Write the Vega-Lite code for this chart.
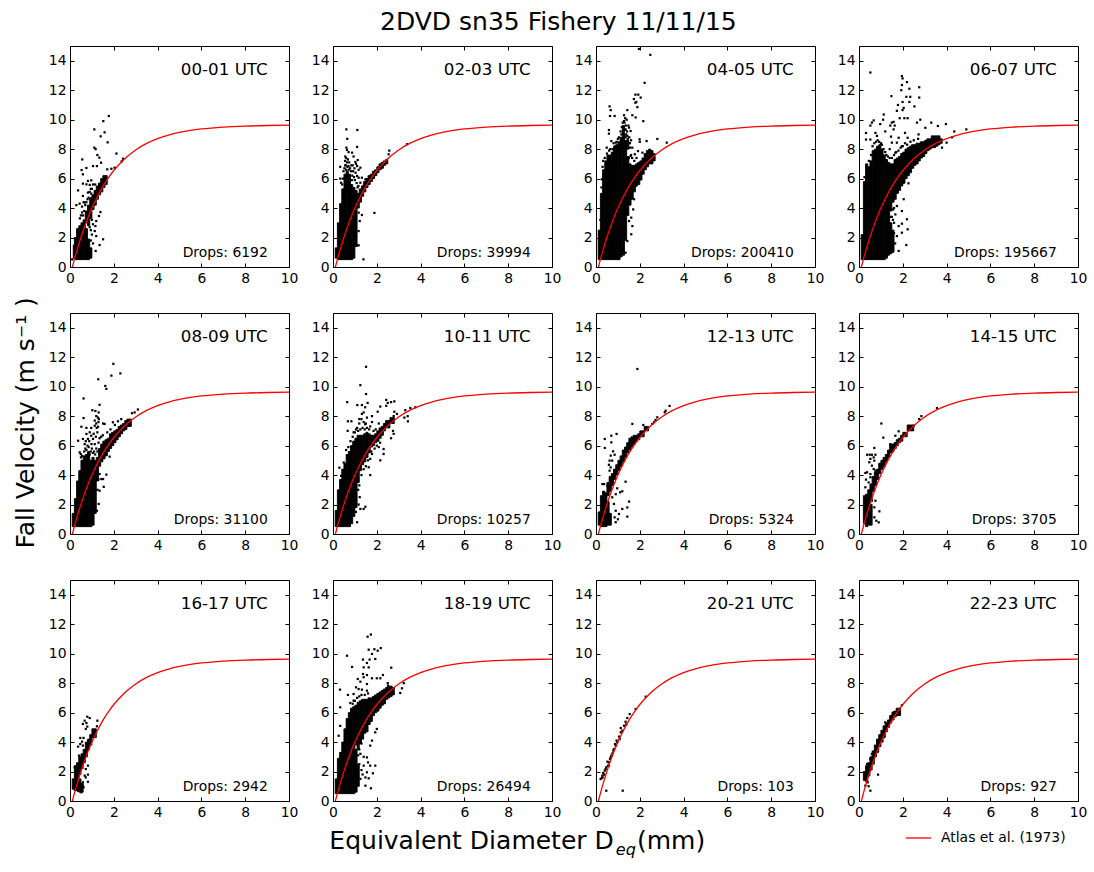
{"$schema":"https://vega.github.io/schema/vega-lite/v6.json","padding":0,"autosize":{"type":"pad"},"bounds":"full","spacing":0,
"config":{"font":"DejaVu Sans","view":{"stroke":null},"axis":{"grid":false,"labelFont":"DejaVu Sans","labelFontSize":13.9,"labelColor":"black","tickColor":"black","domain":false,"title":null,"labelAngle":0,"labelFlush":false,"labelOverlap":false}},
"datasets":{"atlas":[{"d":0.11,"v":0},{"d":0.2,"v":0.515},{"d":0.3,"v":1.047},{"d":0.4,"v":1.548},{"d":0.5,"v":2.02},{"d":0.6,"v":2.464},{"d":0.8,"v":3.277},{"d":1,"v":3.997},{"d":1.2,"v":4.636},{"d":1.4,"v":5.203},{"d":1.6,"v":5.706},{"d":1.8,"v":6.152},{"d":2,"v":6.548},{"d":2.5,"v":7.352},{"d":3,"v":7.947},{"d":3.5,"v":8.389},{"d":4,"v":8.716},{"d":4.5,"v":8.958},{"d":5,"v":9.137},{"d":5.5,"v":9.27},{"d":6,"v":9.369},{"d":7,"v":9.496},{"d":8,"v":9.565},{"d":9,"v":9.603},{"d":10,"v":9.624}],
"panels":[{"p":"00","t":"00-01 UTC","n":"Drops: 6192"},{"p":"02","t":"02-03 UTC","n":"Drops: 39994"},{"p":"04","t":"04-05 UTC","n":"Drops: 200410"},{"p":"06","t":"06-07 UTC","n":"Drops: 195667"},{"p":"08","t":"08-09 UTC","n":"Drops: 31100"},{"p":"10","t":"10-11 UTC","n":"Drops: 10257"},{"p":"12","t":"12-13 UTC","n":"Drops: 5324"},{"p":"14","t":"14-15 UTC","n":"Drops: 3705"},{"p":"16","t":"16-17 UTC","n":"Drops: 2942"},{"p":"18","t":"18-19 UTC","n":"Drops: 26494"},{"p":"20","t":"20-21 UTC","n":"Drops: 103"},{"p":"22","t":"22-23 UTC","n":"Drops: 927"},
{"p":"00","a":0.15,"b":0.2,"l":0.6,"h":1.5},{"p":"00","a":0.2,"b":0.3,"l":0.5,"h":2},{"p":"00","a":0.3,"b":0.4,"l":0.5,"h":2.6},{"p":"00","a":0.4,"b":0.5,"l":0.5,"h":2.8},{"p":"00","a":0.5,"b":0.6,"l":0.5,"h":3},{"p":"00","a":0.6,"b":0.7,"l":0.5,"h":3.2},{"p":"00","a":0.7,"b":0.8,"l":0.5,"h":2.6},{"p":"00","a":0.7,"b":0.8,"l":3,"h":3.8},{"p":"00","a":0.8,"b":0.9,"l":0.5,"h":1.9},{"p":"00","a":0.8,"b":0.9,"l":2.8,"h":4.2},{"p":"00","a":0.9,"b":1,"l":0.6,"h":1.3},{"p":"00","a":0.9,"b":1,"l":3.3,"h":4.7},{"p":"00","a":1,"b":1.1,"l":3.9,"h":4.9},{"p":"00","a":1.1,"b":1.2,"l":4.2,"h":5.2},{"p":"00","a":1.2,"b":1.3,"l":4.6,"h":5.5},{"p":"00","a":1.3,"b":1.4,"l":4.9,"h":5.7},{"p":"00","a":1.4,"b":1.5,"l":5.1,"h":6},{"p":"00","a":1.5,"b":1.6,"l":5.4,"h":6.2},{"p":"00","a":1.6,"b":1.7,"l":5.6,"h":6.2},
{"p":"02","a":0.1,"b":0.2,"l":0.6,"h":1.3},{"p":"02","a":0.2,"b":0.3,"l":0.5,"h":3},{"p":"02","a":0.3,"b":0.4,"l":0.5,"h":4.3},{"p":"02","a":0.4,"b":0.5,"l":0.5,"h":5.3},{"p":"02","a":0.5,"b":0.6,"l":0.5,"h":6.3},{"p":"02","a":0.6,"b":0.7,"l":0.5,"h":6.5},{"p":"02","a":0.7,"b":0.8,"l":0.5,"h":6.3},{"p":"02","a":0.8,"b":0.9,"l":0.5,"h":5.6},{"p":"02","a":0.9,"b":1,"l":0.6,"h":5.4},{"p":"02","a":1,"b":1.1,"l":1.4,"h":5.2},{"p":"02","a":1.1,"b":1.2,"l":4,"h":5},{"p":"02","a":1.2,"b":1.3,"l":4.4,"h":5.3},{"p":"02","a":1.3,"b":1.4,"l":4.8,"h":5.5},{"p":"02","a":1.4,"b":1.5,"l":5.1,"h":5.8},{"p":"02","a":1.5,"b":1.6,"l":5.4,"h":6},{"p":"02","a":1.6,"b":1.7,"l":5.6,"h":6.2},{"p":"02","a":1.7,"b":1.8,"l":5.8,"h":6.3},{"p":"02","a":1.8,"b":1.9,"l":6,"h":6.5},{"p":"02","a":1.9,"b":2,"l":6.2,"h":6.6},{"p":"02","a":2,"b":2.1,"l":6.4,"h":6.8},{"p":"02","a":2.1,"b":2.2,"l":6.6,"h":7},{"p":"02","a":2.2,"b":2.3,"l":6.7,"h":7.1},{"p":"02","a":2.3,"b":2.4,"l":6.9,"h":7.2},{"p":"02","a":2.4,"b":2.5,"l":7,"h":7.3},
{"p":"04","a":0.1,"b":0.2,"l":0.5,"h":2.5},{"p":"04","a":0.2,"b":0.3,"l":0.5,"h":5},{"p":"04","a":0.3,"b":0.4,"l":0.5,"h":6.6},{"p":"04","a":0.4,"b":0.5,"l":0.5,"h":7.2},{"p":"04","a":0.5,"b":0.7,"l":0.5,"h":7.6},{"p":"04","a":0.7,"b":0.8,"l":0.5,"h":7.8},{"p":"04","a":0.8,"b":0.9,"l":0.5,"h":8.2},{"p":"04","a":0.9,"b":1,"l":0.5,"h":8.3},{"p":"04","a":1,"b":1.1,"l":0.5,"h":8.5},{"p":"04","a":1.1,"b":1.2,"l":0.7,"h":8.8},{"p":"04","a":1.2,"b":1.3,"l":0.8,"h":9.6},{"p":"04","a":1.3,"b":1.4,"l":1.8,"h":8.6},{"p":"04","a":1.4,"b":1.5,"l":3.5,"h":7.5},{"p":"04","a":1.4,"b":1.5,"l":8,"h":8.6},{"p":"04","a":1.5,"b":1.6,"l":4.2,"h":7},{"p":"04","a":1.6,"b":1.7,"l":4.6,"h":6.9},{"p":"04","a":1.7,"b":1.8,"l":5.1,"h":6.9},{"p":"04","a":1.8,"b":1.9,"l":5.5,"h":7},{"p":"04","a":1.9,"b":2,"l":5.6,"h":7.1},{"p":"04","a":2,"b":2.1,"l":5.9,"h":7.2},{"p":"04","a":2.1,"b":2.2,"l":6.3,"h":7.4},{"p":"04","a":2.2,"b":2.3,"l":6.6,"h":7.7},{"p":"04","a":2.3,"b":2.4,"l":6.8,"h":7.9},{"p":"04","a":2.4,"b":2.5,"l":7,"h":8},{"p":"04","a":2.5,"b":2.6,"l":7,"h":7.9},{"p":"04","a":2.6,"b":2.7,"l":7.2,"h":7.7},
{"p":"06","a":0.1,"b":0.2,"l":0.5,"h":2.2},{"p":"06","a":0.2,"b":0.3,"l":0.5,"h":5.8},{"p":"06","a":0.3,"b":0.4,"l":0.5,"h":7},{"p":"06","a":0.4,"b":0.5,"l":0.5,"h":6.8},{"p":"06","a":0.5,"b":0.6,"l":0.5,"h":7.2},{"p":"06","a":0.6,"b":0.7,"l":0.5,"h":7.9},{"p":"06","a":0.7,"b":0.8,"l":0.5,"h":8},{"p":"06","a":0.8,"b":0.9,"l":0.5,"h":8.2},{"p":"06","a":0.9,"b":1,"l":0.5,"h":8.3},{"p":"06","a":1,"b":1.1,"l":0.5,"h":8},{"p":"06","a":1.1,"b":1.2,"l":0.5,"h":7.6},{"p":"06","a":1.2,"b":1.3,"l":0.6,"h":7.3},{"p":"06","a":1.3,"b":1.4,"l":0.8,"h":7.1},{"p":"06","a":1.4,"b":1.5,"l":0.9,"h":3},{"p":"06","a":1.4,"b":1.5,"l":3.8,"h":7},{"p":"06","a":1.5,"b":1.6,"l":1,"h":2.5},{"p":"06","a":1.5,"b":1.6,"l":4.4,"h":7},{"p":"06","a":1.6,"b":1.7,"l":4.6,"h":7.3},{"p":"06","a":1.7,"b":1.8,"l":5,"h":7.4},{"p":"06","a":1.8,"b":1.9,"l":5.2,"h":7.5},{"p":"06","a":1.9,"b":2,"l":5.5,"h":7.7},{"p":"06","a":2,"b":2.1,"l":5.7,"h":7.8},{"p":"06","a":2.1,"b":2.2,"l":6,"h":8},{"p":"06","a":2.2,"b":2.3,"l":6.2,"h":8.1},{"p":"06","a":2.3,"b":2.4,"l":6.4,"h":8.2},{"p":"06","a":2.4,"b":2.5,"l":6.7,"h":8.3},{"p":"06","a":2.5,"b":2.6,"l":6.9,"h":8.3},{"p":"06","a":2.6,"b":2.7,"l":7,"h":8.4},{"p":"06","a":2.7,"b":2.8,"l":7.2,"h":8.4},{"p":"06","a":2.8,"b":2.9,"l":7.4,"h":8.5},{"p":"06","a":2.9,"b":3,"l":7.5,"h":8.5},{"p":"06","a":3,"b":3.1,"l":7.7,"h":8.6},{"p":"06","a":3.1,"b":3.2,"l":7.9,"h":8.7},{"p":"06","a":3.2,"b":3.3,"l":8,"h":8.7},{"p":"06","a":3.3,"b":3.5,"l":8.1,"h":8.9},{"p":"06","a":3.5,"b":3.6,"l":8.2,"h":8.9},{"p":"06","a":3.6,"b":3.7,"l":8.3,"h":8.9},{"p":"06","a":3.7,"b":3.8,"l":8.4,"h":8.7},
{"p":"08","a":0.1,"b":0.2,"l":0.5,"h":1.4},{"p":"08","a":0.2,"b":0.3,"l":0.5,"h":2.4},{"p":"08","a":0.3,"b":0.4,"l":0.5,"h":3.6},{"p":"08","a":0.4,"b":0.5,"l":0.5,"h":4.3},{"p":"08","a":0.5,"b":0.6,"l":0.5,"h":5},{"p":"08","a":0.6,"b":0.7,"l":0.5,"h":5.3},{"p":"08","a":0.7,"b":0.8,"l":0.5,"h":5.4},{"p":"08","a":0.8,"b":0.9,"l":0.5,"h":5.6},{"p":"08","a":0.9,"b":1,"l":0.5,"h":5},{"p":"08","a":1,"b":1.1,"l":0.6,"h":5.2},{"p":"08","a":1.1,"b":1.2,"l":1.4,"h":5},{"p":"08","a":1.2,"b":1.3,"l":3.6,"h":5.2},{"p":"08","a":1.3,"b":1.4,"l":4.6,"h":5.8},{"p":"08","a":1.4,"b":1.5,"l":4.9,"h":6.1},{"p":"08","a":1.5,"b":1.6,"l":5.1,"h":6.3},{"p":"08","a":1.6,"b":1.7,"l":5.3,"h":6.4},{"p":"08","a":1.7,"b":1.8,"l":5.6,"h":6.5},{"p":"08","a":1.8,"b":1.9,"l":5.8,"h":6.8},{"p":"08","a":1.9,"b":2,"l":6,"h":6.9},{"p":"08","a":2,"b":2.1,"l":6.2,"h":7},{"p":"08","a":2.1,"b":2.2,"l":6.4,"h":7.1},{"p":"08","a":2.2,"b":2.3,"l":6.6,"h":7.3},{"p":"08","a":2.3,"b":2.4,"l":6.8,"h":7.4},{"p":"08","a":2.4,"b":2.5,"l":7,"h":7.5},{"p":"08","a":2.5,"b":2.6,"l":7.1,"h":7.7},{"p":"08","a":2.6,"b":2.8,"l":7.3,"h":7.8},
{"p":"10","a":0.1,"b":0.2,"l":0.5,"h":1.6},{"p":"10","a":0.2,"b":0.3,"l":0.5,"h":3},{"p":"10","a":0.3,"b":0.4,"l":0.5,"h":3.7},{"p":"10","a":0.4,"b":0.5,"l":0.5,"h":4.4},{"p":"10","a":0.5,"b":0.6,"l":0.5,"h":4.8},{"p":"10","a":0.6,"b":0.7,"l":0.5,"h":5.4},{"p":"10","a":0.7,"b":0.8,"l":0.5,"h":5.6},{"p":"10","a":0.8,"b":0.9,"l":0.7,"h":6},{"p":"10","a":0.9,"b":1,"l":1.2,"h":6.3},{"p":"10","a":1,"b":1.1,"l":1.8,"h":6.5},{"p":"10","a":1.1,"b":1.2,"l":3.5,"h":6.7},{"p":"10","a":1.2,"b":1.3,"l":4.3,"h":6.7},{"p":"10","a":1.3,"b":1.4,"l":4.7,"h":6.7},{"p":"10","a":1.4,"b":1.5,"l":4.9,"h":6.8},{"p":"10","a":1.5,"b":1.6,"l":5.2,"h":6.9},{"p":"10","a":1.6,"b":1.7,"l":5.5,"h":6.8},{"p":"10","a":1.7,"b":1.8,"l":5.9,"h":6.7},{"p":"10","a":1.8,"b":1.9,"l":6,"h":6.7},{"p":"10","a":1.9,"b":2,"l":6.2,"h":6.8},{"p":"10","a":2,"b":2.1,"l":6.3,"h":7},{"p":"10","a":2.1,"b":2.2,"l":6.5,"h":7.2},{"p":"10","a":2.2,"b":2.3,"l":6.7,"h":7.3},{"p":"10","a":2.3,"b":2.4,"l":7,"h":7.5},{"p":"10","a":2.4,"b":2.6,"l":7.2,"h":7.7},{"p":"10","a":2.6,"b":2.8,"l":7.5,"h":7.9},
{"p":"12","a":0.1,"b":0.2,"l":0.6,"h":1.5},{"p":"12","a":0.2,"b":0.3,"l":0.5,"h":2.6},{"p":"12","a":0.3,"b":0.4,"l":0.5,"h":2.9},{"p":"12","a":0.4,"b":0.5,"l":0.5,"h":2.8},{"p":"12","a":0.5,"b":0.6,"l":0.6,"h":2.2},{"p":"12","a":0.5,"b":0.6,"l":2.6,"h":3.5},{"p":"12","a":0.6,"b":0.7,"l":0.6,"h":1.4},{"p":"12","a":0.6,"b":0.7,"l":2.9,"h":3.9},{"p":"12","a":0.7,"b":0.8,"l":3.3,"h":4.1},{"p":"12","a":0.8,"b":0.9,"l":3.7,"h":4.4},{"p":"12","a":0.9,"b":1,"l":4,"h":4.7},{"p":"12","a":1,"b":1.1,"l":4.3,"h":5},{"p":"12","a":1.1,"b":1.2,"l":4.6,"h":5.3},{"p":"12","a":1.2,"b":1.3,"l":4.9,"h":5.7},{"p":"12","a":1.3,"b":1.4,"l":5.2,"h":5.9},{"p":"12","a":1.4,"b":1.5,"l":5.5,"h":6.2},{"p":"12","a":1.5,"b":1.6,"l":5.7,"h":6.5},{"p":"12","a":1.6,"b":1.7,"l":5.9,"h":6.6},{"p":"12","a":1.7,"b":1.8,"l":6.1,"h":6.7},{"p":"12","a":1.8,"b":1.9,"l":6.3,"h":6.7},{"p":"12","a":1.9,"b":2,"l":6.4,"h":6.8},{"p":"12","a":2,"b":2.2,"l":6.6,"h":7},{"p":"12","a":2.2,"b":2.4,"l":7,"h":7.3},
{"p":"14","a":0.2,"b":0.3,"l":0.7,"h":2.6},{"p":"14","a":0.3,"b":0.4,"l":0.5,"h":2.7},{"p":"14","a":0.4,"b":0.5,"l":0.6,"h":3},{"p":"14","a":0.5,"b":0.6,"l":0.6,"h":2},{"p":"14","a":0.5,"b":0.6,"l":2.3,"h":3.4},{"p":"14","a":0.6,"b":0.7,"l":2.9,"h":3.9},{"p":"14","a":0.7,"b":0.8,"l":3.3,"h":4.2},{"p":"14","a":0.8,"b":0.9,"l":3.7,"h":4.4},{"p":"14","a":0.9,"b":1,"l":4.1,"h":4.8},{"p":"14","a":1,"b":1.1,"l":4.4,"h":5},{"p":"14","a":1.1,"b":1.2,"l":4.6,"h":5.2},{"p":"14","a":1.2,"b":1.3,"l":4.9,"h":5.4},{"p":"14","a":1.3,"b":1.4,"l":5.2,"h":5.7},{"p":"14","a":1.4,"b":1.5,"l":5.5,"h":6.1},{"p":"14","a":1.5,"b":1.6,"l":5.6,"h":6.1},{"p":"14","a":1.6,"b":1.7,"l":5.8,"h":6.2},{"p":"14","a":1.7,"b":1.8,"l":6,"h":6.4},{"p":"14","a":1.8,"b":1.9,"l":6.2,"h":6.5},{"p":"14","a":1.9,"b":2,"l":6.3,"h":6.7},{"p":"14","a":2,"b":2.2,"l":6.6,"h":6.9},{"p":"14","a":2.2,"b":2.5,"l":7,"h":7.4},
{"p":"16","a":0.1,"b":0.2,"l":0.8,"h":1.5},{"p":"16","a":0.2,"b":0.3,"l":0.7,"h":2.4},{"p":"16","a":0.3,"b":0.4,"l":0.7,"h":2.6},{"p":"16","a":0.4,"b":0.5,"l":0.6,"h":1.5},{"p":"16","a":0.4,"b":0.5,"l":1.8,"h":3},{"p":"16","a":0.5,"b":0.6,"l":0.6,"h":1.2},{"p":"16","a":0.5,"b":0.6,"l":2.2,"h":3.2},{"p":"16","a":0.6,"b":0.7,"l":2.6,"h":3.5},{"p":"16","a":0.7,"b":0.8,"l":3,"h":4},{"p":"16","a":0.8,"b":0.9,"l":3.5,"h":4.2},{"p":"16","a":0.9,"b":1,"l":3.8,"h":4.5},{"p":"16","a":1,"b":1.2,"l":4.3,"h":4.9},
{"p":"18","a":0.1,"b":0.2,"l":0.5,"h":1.5},{"p":"18","a":0.2,"b":0.3,"l":0.5,"h":2.9},{"p":"18","a":0.3,"b":0.4,"l":0.5,"h":3.3},{"p":"18","a":0.4,"b":0.5,"l":0.5,"h":4},{"p":"18","a":0.5,"b":0.6,"l":0.5,"h":4.9},{"p":"18","a":0.6,"b":0.7,"l":0.5,"h":5.6},{"p":"18","a":0.7,"b":0.8,"l":0.5,"h":6},{"p":"18","a":0.8,"b":0.9,"l":0.5,"h":6.3},{"p":"18","a":0.9,"b":1,"l":0.5,"h":6.4},{"p":"18","a":1,"b":1.1,"l":0.6,"h":3.5},{"p":"18","a":1,"b":1.1,"l":3.8,"h":6.5},{"p":"18","a":1.1,"b":1.2,"l":1,"h":2.5},{"p":"18","a":1.1,"b":1.2,"l":3.5,"h":6.7},{"p":"18","a":1.2,"b":1.3,"l":3.9,"h":6.8},{"p":"18","a":1.3,"b":1.4,"l":4.2,"h":6.9},{"p":"18","a":1.4,"b":1.5,"l":4.6,"h":6.9},{"p":"18","a":1.5,"b":1.6,"l":4.7,"h":6.9},{"p":"18","a":1.6,"b":1.7,"l":5.2,"h":7},{"p":"18","a":1.7,"b":1.8,"l":5.4,"h":7},{"p":"18","a":1.8,"b":1.9,"l":5.8,"h":7.1},{"p":"18","a":1.9,"b":2,"l":6,"h":7.2},{"p":"18","a":2,"b":2.1,"l":6.1,"h":7.3},{"p":"18","a":2.1,"b":2.2,"l":6.3,"h":7.4},{"p":"18","a":2.2,"b":2.3,"l":6.5,"h":7.5},{"p":"18","a":2.3,"b":2.4,"l":6.6,"h":7.6},{"p":"18","a":2.4,"b":2.5,"l":6.9,"h":7.7},{"p":"18","a":2.5,"b":2.6,"l":7,"h":7.8},{"p":"18","a":2.6,"b":2.7,"l":7.1,"h":7.8},{"p":"18","a":2.7,"b":2.8,"l":7.2,"h":7.7},
{"p":"22","a":0.2,"b":0.3,"l":1.4,"h":2},{"p":"22","a":0.3,"b":0.4,"l":1.3,"h":2.4},{"p":"22","a":0.4,"b":0.5,"l":1.7,"h":2.6},{"p":"22","a":0.5,"b":0.6,"l":2.1,"h":3},{"p":"22","a":0.6,"b":0.7,"l":2.5,"h":3.4},{"p":"22","a":0.7,"b":0.8,"l":3,"h":3.8},{"p":"22","a":0.8,"b":0.9,"l":3.3,"h":4.2},{"p":"22","a":0.9,"b":1,"l":3.7,"h":4.5},{"p":"22","a":1,"b":1.1,"l":4,"h":4.8},{"p":"22","a":1.1,"b":1.2,"l":4.3,"h":5.1},{"p":"22","a":1.2,"b":1.3,"l":4.7,"h":5.3},{"p":"22","a":1.3,"b":1.4,"l":5,"h":5.5},{"p":"22","a":1.4,"b":1.5,"l":5.3,"h":5.8},{"p":"22","a":1.5,"b":1.6,"l":5.5,"h":6},{"p":"22","a":1.6,"b":1.7,"l":5.7,"h":6.1},{"p":"22","a":1.7,"b":1.9,"l":5.8,"h":6.3},
{"p":"00","d":1.77,"v":10.25},{"p":"00","d":1.52,"v":9.9},{"p":"00","d":1.11,"v":9.34},{"p":"00","d":1.58,"v":9.14},{"p":"00","d":1.4,"v":8.87},{"p":"00","d":1.72,"v":8.46},{"p":"00","d":1.11,"v":8.1},{"p":"00","d":1.17,"v":8},{"p":"00","d":1.25,"v":7.6},{"p":"00","d":1.34,"v":7.42},{"p":"00","d":0.56,"v":7.3},{"p":"00","d":2.12,"v":7.7},{"p":"00","d":2.36,"v":7.17},{"p":"00","d":2.42,"v":7.35},{"p":"00","d":1.05,"v":6.85},{"p":"00","d":1.23,"v":6.85},{"p":"00","d":1.42,"v":7.08},{"p":"00","d":0.75,"v":6.72},{"p":"00","d":0.53,"v":6.58},{"p":"00","d":0.59,"v":6.29},{"p":"00","d":1.7,"v":6.63},{"p":"00","d":1.89,"v":6.67},{"p":"00","d":2.04,"v":6.74},{"p":"00","d":0.82,"v":5.84},{"p":"00","d":0.97,"v":5.88},{"p":"00","d":0.59,"v":5.66},{"p":"00","d":0.75,"v":5.61},{"p":"00","d":0.9,"v":5.57},{"p":"00","d":0.37,"v":5.2},{"p":"00","d":0.82,"v":5.05},{"p":"00","d":0.97,"v":4.98},{"p":"00","d":0.59,"v":4.82},{"p":"00","d":0.44,"v":4.3},{"p":"00","d":0.29,"v":4.2},{"p":"00","d":0.67,"v":4.37},{"p":"00","d":1.39,"v":3.73},{"p":"00","d":1.32,"v":3.46},{"p":"00","d":1.2,"v":3.12},{"p":"00","d":1.16,"v":2.78},{"p":"00","d":1.13,"v":2.44},{"p":"00","d":1.2,"v":2.1},{"p":"00","d":1.51,"v":1.88},{"p":"00","d":1.35,"v":1.49},{"p":"00","d":1.17,"v":1.09},{"p":"00","d":0.1,"v":0.52},{"p":"00","d":0.45,"v":3.3},{"p":"00","d":0.5,"v":3.5},{"p":"00","d":0.55,"v":3.7},{"p":"00","d":0.6,"v":3.5},{"p":"00","d":0.65,"v":3.8},{"p":"00","d":0.7,"v":4.2},{"p":"00","d":0.75,"v":4.4},{"p":"00","d":0.8,"v":4.6},{"p":"00","d":0.85,"v":4.7},{"p":"00","d":0.55,"v":4.1},{"p":"00","d":0.62,"v":4.4},{"p":"00","d":0.9,"v":5.1},{"p":"00","d":0.95,"v":5.3},{"p":"00","d":1,"v":5.3},{"p":"00","d":1.05,"v":5.6},{"p":"00","d":1.15,"v":5.6},{"p":"00","d":1,"v":3.2},{"p":"00","d":1.05,"v":2.9},{"p":"00","d":1,"v":2.2},{"p":"00","d":0.95,"v":2.5},{"p":"00","d":0.95,"v":1.8},{"p":"00","d":1.05,"v":1.6},{"p":"00","d":0.9,"v":2.7},
{"p":"02","d":0.61,"v":9.34},{"p":"02","d":1.11,"v":9.3},{"p":"02","d":0.65,"v":8.7},{"p":"02","d":0.61,"v":8.1},{"p":"02","d":1.1,"v":8.15},{"p":"02","d":0.64,"v":7.95},{"p":"02","d":0.71,"v":7.8},{"p":"02","d":0.87,"v":7.76},{"p":"02","d":0.56,"v":7.5},{"p":"02","d":0.94,"v":7.5},{"p":"02","d":1.13,"v":7.26},{"p":"02","d":1.02,"v":7.13},{"p":"02","d":0.33,"v":6.8},{"p":"02","d":0.64,"v":7.1},{"p":"02","d":0.71,"v":6.85},{"p":"02","d":0.84,"v":6.9},{"p":"02","d":1.25,"v":6.74},{"p":"02","d":1.1,"v":6.85},{"p":"02","d":1.17,"v":6.6},{"p":"02","d":0.37,"v":5.72},{"p":"02","d":0.33,"v":6},{"p":"02","d":2.57,"v":7.9},{"p":"02","d":2.54,"v":7.65},{"p":"02","d":3.38,"v":8.33},{"p":"02","d":1.89,"v":3.67},{"p":"02","d":1.32,"v":3.53},{"p":"02","d":1.17,"v":3.69},{"p":"02","d":1.39,"v":0.52},{"p":"02","d":1.17,"v":1.47},{"p":"02","d":1.1,"v":1.47},{"p":"02","d":1.17,"v":2.44},{"p":"02","d":1.22,"v":3.12},{"p":"02","d":1.4,"v":5.5},{"p":"02","d":1.48,"v":5.95},{"p":"02","d":1.32,"v":6.06},{"p":"02","d":1.25,"v":5.72},{"p":"02","d":1.1,"v":6.18},{"p":"02","d":1.17,"v":6.06},{"p":"02","d":0.48,"v":6.5},{"p":"02","d":0.52,"v":6.7},{"p":"02","d":0.56,"v":6.9},{"p":"02","d":0.6,"v":6.6},{"p":"02","d":0.66,"v":6.8},{"p":"02","d":0.72,"v":6.6},{"p":"02","d":0.78,"v":6.7},{"p":"02","d":0.82,"v":6.5},{"p":"02","d":0.88,"v":6.2},{"p":"02","d":0.92,"v":6.5},{"p":"02","d":0.96,"v":6.1},{"p":"02","d":1,"v":5.9},{"p":"02","d":1.03,"v":6.4},{"p":"02","d":1.08,"v":5.7},{"p":"02","d":0.55,"v":7.2},{"p":"02","d":0.6,"v":7.4},{"p":"02","d":0.68,"v":7.3},{"p":"02","d":0.74,"v":7.1},{"p":"02","d":0.9,"v":6.9},{"p":"02","d":0.98,"v":6.7},{"p":"02","d":1.05,"v":7},{"p":"02","d":0.58,"v":6.9},{"p":"02","d":0.86,"v":5.9},{"p":"02","d":1.12,"v":5.4},{"p":"02","d":1.16,"v":5.5},{"p":"02","d":0.45,"v":6},{"p":"02","d":0.42,"v":5.6},
{"p":"04","d":1.96,"v":14.8},{"p":"04","d":2.48,"v":14.4},{"p":"04","d":2.22,"v":12.5},{"p":"04","d":1.8,"v":11.7},{"p":"04","d":1.93,"v":11.7},{"p":"04","d":2.04,"v":11.5},{"p":"04","d":1.73,"v":11.4},{"p":"04","d":1.84,"v":11.2},{"p":"04","d":1.8,"v":11.15},{"p":"04","d":1.89,"v":10.85},{"p":"04","d":0.62,"v":10.9},{"p":"04","d":0.67,"v":10.65},{"p":"04","d":0.64,"v":10.25},{"p":"04","d":0.85,"v":10.25},{"p":"04","d":1.43,"v":10.65},{"p":"04","d":1.28,"v":10.3},{"p":"04","d":1.66,"v":10.3},{"p":"04","d":1.81,"v":10.15},{"p":"04","d":2.16,"v":9.9},{"p":"04","d":0.59,"v":9.3},{"p":"04","d":0.59,"v":9.05},{"p":"04","d":0.49,"v":8.1},{"p":"04","d":0.7,"v":8.55},{"p":"04","d":0.9,"v":8.44},{"p":"04","d":0.87,"v":8.17},{"p":"04","d":1.99,"v":8.67},{"p":"04","d":2,"v":8.5},{"p":"04","d":2.31,"v":8.55},{"p":"04","d":2.8,"v":8.69},{"p":"04","d":3.23,"v":8.44},{"p":"04","d":1.92,"v":7.87},{"p":"04","d":2.12,"v":7.76},{"p":"04","d":1.77,"v":7.65},{"p":"04","d":1.58,"v":7.53},{"p":"04","d":1.35,"v":9.34},{"p":"04","d":1.51,"v":9.46},{"p":"04","d":1.28,"v":9.9},{"p":"04","d":1.43,"v":8.9},{"p":"04","d":1.16,"v":9},{"p":"04","d":1.58,"v":9.23},{"p":"04","d":1.66,"v":8.1},{"p":"04","d":1.56,"v":8.1},{"p":"04","d":1.7,"v":3.91},{"p":"04","d":1.61,"v":3.35},{"p":"04","d":1.51,"v":3.12},{"p":"04","d":1.66,"v":2.78},{"p":"04","d":1.61,"v":2.22},{"p":"04","d":1.43,"v":1.76},{"p":"04","d":1.35,"v":0.97},{"p":"04","d":1.74,"v":4.6},{"p":"04","d":1.81,"v":5.5},{"p":"04","d":0.33,"v":7.2},{"p":"04","d":0.27,"v":5.95},{"p":"04","d":1.05,"v":8.8},{"p":"04","d":1.12,"v":9.2},{"p":"04","d":1.18,"v":9.5},{"p":"04","d":1.22,"v":9.8},{"p":"04","d":1.3,"v":9.8},{"p":"04","d":1.33,"v":9.3},{"p":"04","d":1.36,"v":9.6},{"p":"04","d":1.38,"v":9},{"p":"04","d":1.42,"v":9.2},{"p":"04","d":1.45,"v":8.7},{"p":"04","d":1.48,"v":9.6},{"p":"04","d":1.52,"v":8.8},{"p":"04","d":1.55,"v":8.4},{"p":"04","d":1.6,"v":8.6},{"p":"04","d":1.4,"v":10},{"p":"04","d":1.33,"v":10.1},{"p":"04","d":1,"v":8.7},{"p":"04","d":0.95,"v":8.5},{"p":"04","d":0.8,"v":8.4},{"p":"04","d":1.65,"v":7.4},{"p":"04","d":1.75,"v":7.2},{"p":"04","d":1.6,"v":7.6},{"p":"04","d":1.85,"v":7.4},{"p":"04","d":0.4,"v":7.4},{"p":"04","d":0.5,"v":7.7},{"p":"04","d":0.6,"v":7.9},{"p":"04","d":0.65,"v":8},{"p":"04","d":0.75,"v":8},{"p":"04","d":1.5,"v":7.4},{"p":"04","d":1.3,"v":8.9},{"p":"04","d":1.35,"v":8.8},{"p":"04","d":0.25,"v":5.4},{"p":"04","d":0.2,"v":3.2},{"p":"04","d":0.3,"v":6.8},
{"p":"06","d":0.52,"v":13.2},{"p":"06","d":1.96,"v":12.96},{"p":"06","d":1.99,"v":12.8},{"p":"06","d":2.19,"v":12.55},{"p":"06","d":1.96,"v":12.35},{"p":"06","d":2.75,"v":12.2},{"p":"06","d":2.3,"v":12.1},{"p":"06","d":1.93,"v":12},{"p":"06","d":1.48,"v":11.6},{"p":"06","d":2.16,"v":11.55},{"p":"06","d":2.34,"v":11.55},{"p":"06","d":2.75,"v":11.5},{"p":"06","d":1.99,"v":11.2},{"p":"06","d":2.3,"v":11.2},{"p":"06","d":1.78,"v":11},{"p":"06","d":2.53,"v":10.9},{"p":"06","d":2.04,"v":10.8},{"p":"06","d":1.99,"v":10.65},{"p":"06","d":1.73,"v":10.6},{"p":"06","d":1.13,"v":10.35},{"p":"06","d":1.86,"v":10.1},{"p":"06","d":2.07,"v":10.1},{"p":"06","d":2.22,"v":10.1},{"p":"06","d":2.8,"v":10},{"p":"06","d":0.67,"v":9.95},{"p":"06","d":0.59,"v":9.8},{"p":"06","d":1.1,"v":10},{"p":"06","d":1.5,"v":9.8},{"p":"06","d":1.58,"v":9.85},{"p":"06","d":2.65,"v":9.8},{"p":"06","d":0.52,"v":9.6},{"p":"06","d":0.97,"v":9.7},{"p":"06","d":1.43,"v":9.6},{"p":"06","d":1.63,"v":9.6},{"p":"06","d":3.3,"v":9.8},{"p":"06","d":3.97,"v":9.7},{"p":"06","d":3.03,"v":9.45},{"p":"06","d":3.6,"v":9.57},{"p":"06","d":0.32,"v":9.1},{"p":"06","d":0.75,"v":9.1},{"p":"06","d":1.2,"v":9.2},{"p":"06","d":1.58,"v":9.34},{"p":"06","d":2.1,"v":9.1},{"p":"06","d":2.72,"v":9},{"p":"06","d":4.35,"v":9.2},{"p":"06","d":4.9,"v":9.34},{"p":"06","d":0.32,"v":8.65},{"p":"06","d":0.52,"v":8.65},{"p":"06","d":0.82,"v":8.9},{"p":"06","d":1.46,"v":8.85},{"p":"06","d":1.81,"v":8.77},{"p":"06","d":2.22,"v":8.77},{"p":"06","d":1.5,"v":8.44},{"p":"06","d":1.73,"v":8.44},{"p":"06","d":1.96,"v":8.2},{"p":"06","d":1.4,"v":8},{"p":"06","d":1.66,"v":7.76},{"p":"06","d":4.25,"v":8.8},{"p":"06","d":4,"v":8.44},{"p":"06","d":3.79,"v":8.1},{"p":"06","d":2.04,"v":5.72},{"p":"06","d":2.26,"v":5.68},{"p":"06","d":2.04,"v":4.6},{"p":"06","d":1.96,"v":3.8},{"p":"06","d":2.19,"v":3.24},{"p":"06","d":1.96,"v":2.94},{"p":"06","d":2.22,"v":2.56},{"p":"06","d":1.96,"v":2.33},{"p":"06","d":1.73,"v":2.1},{"p":"06","d":2.16,"v":1.49},{"p":"06","d":1.81,"v":1.09},{"p":"06","d":1.73,"v":4.14},{"p":"06","d":1.66,"v":3.57},{"p":"06","d":1.81,"v":2.78},{"p":"06","d":0.62,"v":8.2},{"p":"06","d":0.7,"v":8.4},{"p":"06","d":0.78,"v":8.5},{"p":"06","d":0.85,"v":8.6},{"p":"06","d":0.92,"v":8.5},{"p":"06","d":1,"v":8.4},{"p":"06","d":1.05,"v":8.3},{"p":"06","d":1.12,"v":8},{"p":"06","d":1.2,"v":7.8},{"p":"06","d":1.25,"v":7.6},{"p":"06","d":1.32,"v":7.5},{"p":"06","d":1.4,"v":7.4},{"p":"06","d":0.55,"v":7.6},{"p":"06","d":0.45,"v":7.2},{"p":"06","d":1.5,"v":7.4},{"p":"06","d":1.6,"v":7.6},{"p":"06","d":1.7,"v":7.8},{"p":"06","d":1.8,"v":7.9},{"p":"06","d":1.9,"v":8.1},{"p":"06","d":2,"v":8.2},{"p":"06","d":2.1,"v":8.4},{"p":"06","d":2.2,"v":8.3},{"p":"06","d":2.35,"v":8.5},{"p":"06","d":2.5,"v":8.6},{"p":"06","d":2.7,"v":8.7},{"p":"06","d":1.45,"v":3.4},{"p":"06","d":1.55,"v":3.9},{"p":"06","d":1.6,"v":4},{"p":"06","d":1.6,"v":3},{"p":"06","d":1.6,"v":2.3},{"p":"06","d":1.65,"v":1.6},{"p":"06","d":1.55,"v":3.2},{"p":"06","d":1.5,"v":3.4},{"p":"06","d":0.25,"v":6.1},
{"p":"08","d":1.98,"v":11.55},{"p":"08","d":1.89,"v":10.75},{"p":"08","d":2.3,"v":10.9},{"p":"08","d":1.29,"v":10.5},{"p":"08","d":1.61,"v":10.05},{"p":"08","d":1.66,"v":9.85},{"p":"08","d":0.62,"v":9.2},{"p":"08","d":1.35,"v":8.77},{"p":"08","d":1.02,"v":8.4},{"p":"08","d":1.16,"v":8.35},{"p":"08","d":3.1,"v":8.45},{"p":"08","d":2.95,"v":8.25},{"p":"08","d":2.83,"v":8.2},{"p":"08","d":1.31,"v":8.25},{"p":"08","d":1.2,"v":8},{"p":"08","d":0.62,"v":7.87},{"p":"08","d":1.13,"v":7.7},{"p":"08","d":1.32,"v":7.8},{"p":"08","d":1.51,"v":7.5},{"p":"08","d":1.58,"v":7.47},{"p":"08","d":0.97,"v":7.2},{"p":"08","d":0.52,"v":7.28},{"p":"08","d":0.75,"v":7.2},{"p":"08","d":1.13,"v":7.35},{"p":"08","d":1.28,"v":7.28},{"p":"08","d":0.59,"v":6.45},{"p":"08","d":0.37,"v":6.33},{"p":"08","d":0.75,"v":6.79},{"p":"08","d":0.9,"v":6.9},{"p":"08","d":0.82,"v":6.45},{"p":"08","d":1.05,"v":6.45},{"p":"08","d":0.97,"v":6.67},{"p":"08","d":1.13,"v":6.1},{"p":"08","d":0.67,"v":6.1},{"p":"08","d":0.44,"v":5.54},{"p":"08","d":0.49,"v":5.43},{"p":"08","d":1.96,"v":7.58},{"p":"08","d":2.19,"v":7.65},{"p":"08","d":2.34,"v":7.8},{"p":"08","d":1.66,"v":5.43},{"p":"08","d":1.81,"v":5.25},{"p":"08","d":1.66,"v":4.03},{"p":"08","d":1.54,"v":3.2},{"p":"08","d":1.35,"v":2.94},{"p":"08","d":1.43,"v":3.73},{"p":"08","d":1.31,"v":2.04},{"p":"08","d":1.23,"v":1.58},{"p":"08","d":1.51,"v":3.73},{"p":"08","d":1.35,"v":4.07},{"p":"08","d":0.65,"v":5.6},{"p":"08","d":0.7,"v":5.8},{"p":"08","d":0.75,"v":5.7},{"p":"08","d":0.8,"v":6},{"p":"08","d":0.85,"v":5.9},{"p":"08","d":0.9,"v":5.4},{"p":"08","d":0.95,"v":5.6},{"p":"08","d":1,"v":5.8},{"p":"08","d":1.05,"v":5.5},{"p":"08","d":1.1,"v":5.6},{"p":"08","d":1.15,"v":5.4},{"p":"08","d":1.2,"v":5.8},{"p":"08","d":0.72,"v":6.3},{"p":"08","d":0.88,"v":6.3},{"p":"08","d":0.98,"v":6.1},{"p":"08","d":1.08,"v":6.8},{"p":"08","d":1.18,"v":6.6},{"p":"08","d":1.25,"v":6.9},{"p":"08","d":1.22,"v":7.2},{"p":"08","d":1.3,"v":7.6},{"p":"08","d":1.28,"v":7.9},{"p":"08","d":1.2,"v":7.5},{"p":"08","d":0.55,"v":5.3},{"p":"08","d":0.5,"v":5.2},{"p":"08","d":1.3,"v":6.2},{"p":"08","d":1.35,"v":6.5},{"p":"08","d":1.42,"v":6.6},{"p":"08","d":1.5,"v":6.7},{"p":"08","d":1.7,"v":6.9},{"p":"08","d":1.85,"v":7.1},{"p":"08","d":2.05,"v":7.4},{"p":"08","d":1.25,"v":5.6},{"p":"08","d":1.25,"v":4.5},{"p":"08","d":1.3,"v":3.7},{"p":"08","d":1.25,"v":3},
{"p":"10","d":1.51,"v":11.35},{"p":"10","d":1.25,"v":10.1},{"p":"10","d":1.51,"v":9.5},{"p":"10","d":0.65,"v":8.95},{"p":"10","d":2.43,"v":9.1},{"p":"10","d":2.5,"v":8.9},{"p":"10","d":2.65,"v":8.95},{"p":"10","d":2.43,"v":8.7},{"p":"10","d":2.8,"v":9},{"p":"10","d":1.11,"v":8.75},{"p":"10","d":1.32,"v":8.75},{"p":"10","d":1.58,"v":8.9},{"p":"10","d":1.47,"v":8.6},{"p":"10","d":2.16,"v":8.65},{"p":"10","d":2.8,"v":8.3},{"p":"10","d":3.3,"v":8.4},{"p":"10","d":3.53,"v":8.55},{"p":"10","d":3.76,"v":8.6},{"p":"10","d":2.04,"v":8.3},{"p":"10","d":1.78,"v":8},{"p":"10","d":1.32,"v":8.15},{"p":"10","d":1.4,"v":8.25},{"p":"10","d":2.77,"v":8},{"p":"10","d":2.92,"v":8.15},{"p":"10","d":3.41,"v":8},{"p":"10","d":3.42,"v":7.65},{"p":"10","d":3.26,"v":7.9},{"p":"10","d":0.84,"v":7.65},{"p":"10","d":0.68,"v":7.65},{"p":"10","d":1.2,"v":7.8},{"p":"10","d":1.55,"v":7.9},{"p":"10","d":2.09,"v":7.5},{"p":"10","d":1.78,"v":7.6},{"p":"10","d":1.47,"v":7.45},{"p":"10","d":1.1,"v":7.2},{"p":"10","d":0.94,"v":6.9},{"p":"10","d":0.67,"v":7},{"p":"10","d":2.74,"v":7},{"p":"10","d":2.77,"v":6.8},{"p":"10","d":2.65,"v":6.5},{"p":"10","d":2.31,"v":5.77},{"p":"10","d":2.09,"v":5.9},{"p":"10","d":2.31,"v":5.43},{"p":"10","d":2.16,"v":5},{"p":"10","d":1.78,"v":5.43},{"p":"10","d":1.7,"v":5.1},{"p":"10","d":1.7,"v":4},{"p":"10","d":1.63,"v":4.53},{"p":"10","d":1.48,"v":1.85},{"p":"10","d":1.25,"v":1.7},{"p":"10","d":1.4,"v":1.7},{"p":"10","d":1.22,"v":2.5},{"p":"10","d":1.17,"v":2},{"p":"10","d":1.1,"v":0.8},{"p":"10","d":0.29,"v":4.5},{"p":"10","d":0.37,"v":3.95},{"p":"10","d":0.49,"v":4.85},{"p":"10","d":0.8,"v":6.3},{"p":"10","d":0.9,"v":6.6},{"p":"10","d":1,"v":6.9},{"p":"10","d":1.05,"v":7.1},{"p":"10","d":1.15,"v":7},{"p":"10","d":1.25,"v":7.1},{"p":"10","d":1.35,"v":7.2},{"p":"10","d":1.45,"v":7.1},{"p":"10","d":1.55,"v":7.2},{"p":"10","d":1.65,"v":7.1},{"p":"10","d":1.7,"v":7.3},{"p":"10","d":1.2,"v":7.5},{"p":"10","d":1.3,"v":7.8},{"p":"10","d":1.4,"v":7.6},{"p":"10","d":1.5,"v":7.5},{"p":"10","d":1.85,"v":7},{"p":"10","d":1.95,"v":7.1},{"p":"10","d":0.7,"v":5.9},{"p":"10","d":0.6,"v":5.7},{"p":"10","d":1.15,"v":3},{"p":"10","d":1.2,"v":3.3},{"p":"10","d":1.3,"v":4},{"p":"10","d":1.4,"v":4.4},{"p":"10","d":1.5,"v":4.6},{"p":"10","d":1.6,"v":5},{"p":"10","d":1.75,"v":5.6},{"p":"10","d":1.9,"v":5.8},{"p":"10","d":2,"v":6},{"p":"10","d":2.15,"v":6.2},{"p":"10","d":1.05,"v":1.5},
{"p":"12","d":1.89,"v":11.2},{"p":"12","d":3.36,"v":8.69},{"p":"12","d":3.18,"v":8.37},{"p":"12","d":3.14,"v":8.26},{"p":"12","d":2.8,"v":7.92},{"p":"12","d":2.72,"v":7.74},{"p":"12","d":2.65,"v":7.58},{"p":"12","d":2.57,"v":7.47},{"p":"12","d":1.66,"v":7.47},{"p":"12","d":2.16,"v":7.4},{"p":"12","d":0.94,"v":6.79},{"p":"12","d":0.7,"v":6.67},{"p":"12","d":0.4,"v":6.45},{"p":"12","d":0.7,"v":6.22},{"p":"12","d":0.4,"v":5.84},{"p":"12","d":0.78,"v":5.61},{"p":"12","d":0.67,"v":5.32},{"p":"12","d":0.85,"v":5.38},{"p":"12","d":0.62,"v":4.98},{"p":"12","d":0.74,"v":4.98},{"p":"12","d":0.59,"v":4.7},{"p":"12","d":0.67,"v":4.52},{"p":"12","d":0.62,"v":4.3},{"p":"12","d":0.74,"v":3.96},{"p":"12","d":0.37,"v":3.39},{"p":"12","d":0.29,"v":3.39},{"p":"12","d":0.52,"v":3.28},{"p":"12","d":0.33,"v":2.83},{"p":"12","d":1.35,"v":3.55},{"p":"12","d":1.2,"v":2.9},{"p":"12","d":0.97,"v":3.1},{"p":"12","d":1.1,"v":2.83},{"p":"12","d":0.9,"v":2.7},{"p":"12","d":1.51,"v":2.2},{"p":"12","d":1.43,"v":1.8},{"p":"12","d":1.2,"v":1.7},{"p":"12","d":1.43,"v":1.18},{"p":"12","d":1.05,"v":1.36},{"p":"12","d":1,"v":1},{"p":"12","d":0.9,"v":1.58},{"p":"12","d":0.82,"v":2.04},{"p":"12","d":0.9,"v":0.8},{"p":"12","d":0.85,"v":1.13},{"p":"12","d":0.74,"v":2.49},
{"p":"14","d":2.85,"v":8},{"p":"14","d":2.75,"v":7.8},{"p":"14","d":3.56,"v":8.55},{"p":"14","d":1.02,"v":7.5},{"p":"14","d":1.11,"v":6.54},{"p":"14","d":0.7,"v":5.84},{"p":"14","d":0.37,"v":5.38},{"p":"14","d":0.49,"v":5.38},{"p":"14","d":0.59,"v":5.38},{"p":"14","d":0.75,"v":5.38},{"p":"14","d":0.67,"v":5.2},{"p":"14","d":0.52,"v":5.1},{"p":"14","d":0.47,"v":4.87},{"p":"14","d":0.7,"v":4.98},{"p":"14","d":0.59,"v":4.64},{"p":"14","d":0.67,"v":4.41},{"p":"14","d":0.75,"v":4.3},{"p":"14","d":0.37,"v":4.19},{"p":"14","d":0.29,"v":4.14},{"p":"14","d":0.52,"v":4.07},{"p":"14","d":0.32,"v":3.69},{"p":"14","d":0.52,"v":3.85},{"p":"14","d":0.44,"v":3.5},{"p":"14","d":0.29,"v":3.17},{"p":"14","d":1.81,"v":6.97},{"p":"14","d":1.66,"v":6.67},{"p":"14","d":1.43,"v":6.1},{"p":"14","d":2.5,"v":7.35},{"p":"14","d":0.93,"v":1.54},{"p":"14","d":0.9,"v":0.79},{"p":"14","d":0.79,"v":0.9},{"p":"14","d":0.7,"v":1.13},{"p":"14","d":0.7,"v":1.81},{"p":"14","d":0.75,"v":2.26},{"p":"14","d":0.59,"v":2.26},
{"p":"16","d":0.79,"v":5.72},{"p":"16","d":0.9,"v":5.63},{"p":"16","d":0.67,"v":5.45},{"p":"16","d":0.59,"v":5.23},{"p":"16","d":0.75,"v":5.29},{"p":"16","d":1.25,"v":5.45},{"p":"16","d":0.79,"v":5.05},{"p":"16","d":0.72,"v":4.89},{"p":"16","d":1.23,"v":5.07},{"p":"16","d":0.47,"v":4.28},{"p":"16","d":0.62,"v":4.28},{"p":"16","d":0.55,"v":4.03},{"p":"16","d":0.47,"v":3.87},{"p":"16","d":0.37,"v":3.69},{"p":"16","d":0.59,"v":3.76},{"p":"16","d":0.41,"v":3.08},{"p":"16","d":0.21,"v":2.29},{"p":"16","d":0.32,"v":2.4},{"p":"16","d":0.82,"v":2.4},{"p":"16","d":0.72,"v":2.17},{"p":"16","d":0.82,"v":1.79},{"p":"16","d":0.67,"v":1.72},{"p":"16","d":0.82,"v":1.31},{"p":"16","d":0.59,"v":1.27},{"p":"16","d":0.72,"v":1.6},{"p":"16","d":0.62,"v":0.93},{"p":"16","d":0.52,"v":0.59},{"p":"16","d":0.37,"v":0.7},{"p":"16","d":0.59,"v":1.04},
{"p":"18","d":1.73,"v":11.3},{"p":"18","d":1.58,"v":11.15},{"p":"18","d":2.18,"v":10.38},{"p":"18","d":1.89,"v":10.3},{"p":"18","d":1.63,"v":10.27},{"p":"18","d":2.04,"v":10.2},{"p":"18","d":1.78,"v":9.98},{"p":"18","d":0.64,"v":9.86},{"p":"18","d":1.93,"v":9.64},{"p":"18","d":1.67,"v":9.6},{"p":"18","d":1.37,"v":9.6},{"p":"18","d":1.55,"v":9.37},{"p":"18","d":0.87,"v":9.1},{"p":"18","d":1.4,"v":9.07},{"p":"18","d":1.63,"v":9.07},{"p":"18","d":2.66,"v":9.05},{"p":"18","d":1.37,"v":8.62},{"p":"18","d":1.55,"v":8.55},{"p":"18","d":2.28,"v":8.55},{"p":"18","d":1.4,"v":8.4},{"p":"18","d":1.78,"v":8.33},{"p":"18","d":2,"v":8.33},{"p":"18","d":2.16,"v":8.33},{"p":"18","d":1.13,"v":8.28},{"p":"18","d":1.25,"v":8.1},{"p":"18","d":1.55,"v":7.94},{"p":"18","d":3.23,"v":8},{"p":"18","d":2.5,"v":8},{"p":"18","d":2.51,"v":7.83},{"p":"18","d":3.15,"v":7.65},{"p":"18","d":3.07,"v":7.33},{"p":"18","d":0.32,"v":7.56},{"p":"18","d":1.05,"v":7.72},{"p":"18","d":1.17,"v":7.6},{"p":"18","d":1.32,"v":7.56},{"p":"18","d":1.55,"v":7.49},{"p":"18","d":0.68,"v":7.2},{"p":"18","d":0.33,"v":6.36},{"p":"18","d":0.94,"v":7.26},{"p":"18","d":0.79,"v":6.65},{"p":"18","d":0.94,"v":6.81},{"p":"18","d":1.93,"v":4.66},{"p":"18","d":2,"v":4.89},{"p":"18","d":1.78,"v":4.1},{"p":"18","d":1.7,"v":3.76},{"p":"18","d":1.93,"v":2.4},{"p":"18","d":1.7,"v":2.4},{"p":"18","d":1.82,"v":1.88},{"p":"18","d":1.55,"v":2.96},{"p":"18","d":1.6,"v":2.62},{"p":"18","d":1.55,"v":1.95},{"p":"18","d":1.63,"v":1.54},{"p":"18","d":1.48,"v":1.6},{"p":"18","d":1.73,"v":0.86},{"p":"18","d":1.48,"v":1.04},{"p":"18","d":1.4,"v":2.4},{"p":"18","d":0.26,"v":4.43},{"p":"18","d":0.33,"v":5.1},{"p":"18","d":0.9,"v":6.6},{"p":"18","d":1,"v":6.8},{"p":"18","d":1.1,"v":7},{"p":"18","d":1.2,"v":7.1},{"p":"18","d":1.3,"v":7.2},{"p":"18","d":1.45,"v":7.2},{"p":"18","d":1.6,"v":7.3},{"p":"18","d":1.15,"v":3.1},{"p":"18","d":1.2,"v":3.5},{"p":"18","d":1.25,"v":3.2},{"p":"18","d":1.3,"v":3.9},{"p":"18","d":1.2,"v":2.5},{"p":"18","d":1.3,"v":2.1},{"p":"18","d":1.25,"v":1.5},{"p":"18","d":1.35,"v":1.8},{"p":"18","d":1.4,"v":3},
{"p":"20","d":0.26,"v":1.56},{"p":"20","d":0.29,"v":1.72},{"p":"20","d":0.33,"v":1.9},{"p":"20","d":0.4,"v":2.06},{"p":"20","d":0.47,"v":2.29},{"p":"20","d":0.55,"v":2.4},{"p":"20","d":0.59,"v":2.62},{"p":"20","d":0.52,"v":2.67},{"p":"20","d":0.64,"v":2.85},{"p":"20","d":0.7,"v":3.08},{"p":"20","d":0.75,"v":3.23},{"p":"20","d":0.82,"v":3.53},{"p":"20","d":0.9,"v":3.76},{"p":"20","d":0.97,"v":3.98},{"p":"20","d":1.05,"v":4.37},{"p":"20","d":1.13,"v":4.66},{"p":"20","d":1.13,"v":4.95},{"p":"20","d":1.28,"v":5.11},{"p":"20","d":1.35,"v":5.38},{"p":"20","d":1.43,"v":5.63},{"p":"20","d":1.54,"v":5.9},{"p":"20","d":1.81,"v":6.24},{"p":"20","d":2.27,"v":7.08},{"p":"20","d":0.47,"v":0.7},{"p":"20","d":1.22,"v":0.7},{"p":"20","d":0.3,"v":1.6},{"p":"20","d":0.37,"v":1.79},{"p":"20","d":0.44,"v":2.17},{"p":"20","d":0.59,"v":2.4},{"p":"20","d":0.67,"v":2.96},{"p":"20","d":0.79,"v":3.42},{"p":"20","d":0.87,"v":3.87},{"p":"20","d":0.94,"v":4.1},{"p":"20","d":1.08,"v":4.2},{"p":"20","d":1.2,"v":4.77},{"p":"20","d":1.38,"v":5.2},{"p":"20","d":0.21,"v":1.49},
{"p":"22","d":0.87,"v":1.79},{"p":"22","d":0.52,"v":0.7},{"p":"22","d":0.44,"v":1},{"p":"22","d":0.29,"v":1.04},{"p":"22","d":0.4,"v":1.27},{"p":"22","d":1.58,"v":6.02},{"p":"22","d":1.96,"v":6.5},{"p":"22","d":1.74,"v":5.9},{"p":"22","d":1.2,"v":5.34},{"p":"22","d":0.59,"v":3.19},{"p":"22","d":0.37,"v":2.51},{"p":"22","d":0.52,"v":2.85}]},
"hconcat":[
{"width":47,"height":870,"data":{"values":[{"t":"Fall Velocity (m s⁻¹ )"}]},"mark":{"type":"text","angle":270,"fontSize":25,"font":"DejaVu Sans"},"encoding":{"text":{"field":"t"},"x":{"datum":0.553,"scale":{"domain":[0,1]},"axis":null},"y":{"datum":0.514,"scale":{"domain":[0,1]},"axis":null}}},
{"bounds":"full","spacing":0,"vconcat":[
{"width":1007,"height":44,"data":{"values":[{"t":"2DVD sn35 Fishery 11/11/15"}]},"mark":{"type":"text","fontSize":25,"font":"DejaVu Sans"},"encoding":{"text":{"field":"t"},"x":{"datum":4.85,"scale":{"domain":[0,10]},"axis":null},"y":{"datum":0.51,"scale":{"domain":[0,1]},"axis":null}}},
{"data":{"name":"panels"},"columns":4,"bounds":"flush","spacing":{"column":44,"row":46},"facet":{"field":"p","type":"nominal","header":{"labelExpr":"''","labelFontSize":0.1,"labelPadding":0,"title":null,"titlePadding":0},"title":null},"resolve":{"axis":{"x":"independent","y":"independent"}},
"spec":{"width":219,"height":221,"view":{"stroke":"black"},"resolve":{"axis":{"x":"independent","y":"independent"}},"layer":[
{"transform":[{"filter":"isValid(datum.a)"}],"mark":{"type":"rect","color":"black","stroke":"black","strokeWidth":0.9},"encoding":{"x":{"field":"a","type":"quantitative","scale":{"domain":[0,10],"nice":false},"axis":{"values":[0,2,4,6,8,10],"tickSize":-4,"labelPadding":8,"orient":"bottom"}},"x2":{"field":"b"},"y":{"field":"l","type":"quantitative","scale":{"domain":[0,15],"nice":false},"axis":{"values":[0,2,4,6,8,10,12,14],"tickSize":-4,"labelPadding":8,"orient":"left"}},"y2":{"field":"h"}}},
{"transform":[{"filter":"isValid(datum.d)"}],"mark":{"type":"square","size":5,"color":"black","opacity":1},"encoding":{"x":{"field":"d","type":"quantitative","scale":{"domain":[0,10],"nice":false},"axis":null},"y":{"field":"v","type":"quantitative","scale":{"domain":[0,15],"nice":false},"axis":null}}},
{"data":{"name":"atlas"},"mark":{"type":"line","color":"#ff0000","strokeWidth":1.3,"interpolate":"monotone","clip":true},"encoding":{"x":{"field":"d","type":"quantitative","scale":{"domain":[0,10],"nice":false},"axis":{"values":[0,2,4,6,8,10],"tickSize":-4,"labels":false,"orient":"top"}},"y":{"field":"v","type":"quantitative","scale":{"domain":[0,15],"nice":false},"axis":{"values":[0,2,4,6,8,10,12,14],"tickSize":-4,"labels":false,"orient":"right"}}}},
{"transform":[{"filter":"isValid(datum.n)"}],"mark":{"type":"text","align":"right","fontSize":16.7,"font":"DejaVu Sans"},"encoding":{"text":{"field":"t"},"x":{"datum":9.03,"axis":null},"y":{"datum":13.4,"axis":null}}},
{"transform":[{"filter":"isValid(datum.n)"}],"mark":{"type":"text","align":"right","fontSize":13.9,"font":"DejaVu Sans"},"encoding":{"text":{"field":"n"},"x":{"datum":9.03,"axis":null},"y":{"datum":0.97,"axis":null}}}
]}},
{"width":1007,"height":52,"data":{"values":[{"a":"Equivalent Diameter D","b":"eq","c":"(mm)","e":"Atlas et al. (1973)"}]},"encoding":{"y":{"datum":0.596,"scale":{"domain":[0,1]},"axis":null}},"layer":[
{"mark":{"type":"text","align":"right","fontSize":25,"font":"DejaVu Sans"},"encoding":{"text":{"field":"a"},"x":{"datum":5.4,"scale":{"domain":[0,10]},"axis":null}}},
{"mark":{"type":"text","align":"left","fontSize":16,"fontStyle":"italic","font":"DejaVu Sans"},"encoding":{"text":{"field":"b"},"x":{"datum":5.42,"scale":{"domain":[0,10]},"axis":null},"y":{"datum":0.42,"scale":{"domain":[0,1]},"axis":null}}},
{"mark":{"type":"text","align":"left","fontSize":25,"font":"DejaVu Sans"},"encoding":{"text":{"field":"c"},"x":{"datum":5.63,"scale":{"domain":[0,10]},"axis":null}}},
{"mark":{"type":"rule","color":"#ff0000","strokeWidth":1.3},"encoding":{"x":{"datum":8.3,"scale":{"domain":[0,10]},"axis":null},"x2":{"datum":8.55},"y":{"datum":0.654,"scale":{"domain":[0,1]},"axis":null}}},
{"mark":{"type":"text","align":"left","fontSize":13.9,"font":"DejaVu Sans"},"encoding":{"text":{"field":"e"},"x":{"datum":8.65,"scale":{"domain":[0,10]},"axis":null},"y":{"datum":0.654,"scale":{"domain":[0,1]},"axis":null}}}
]}
]}
]}
